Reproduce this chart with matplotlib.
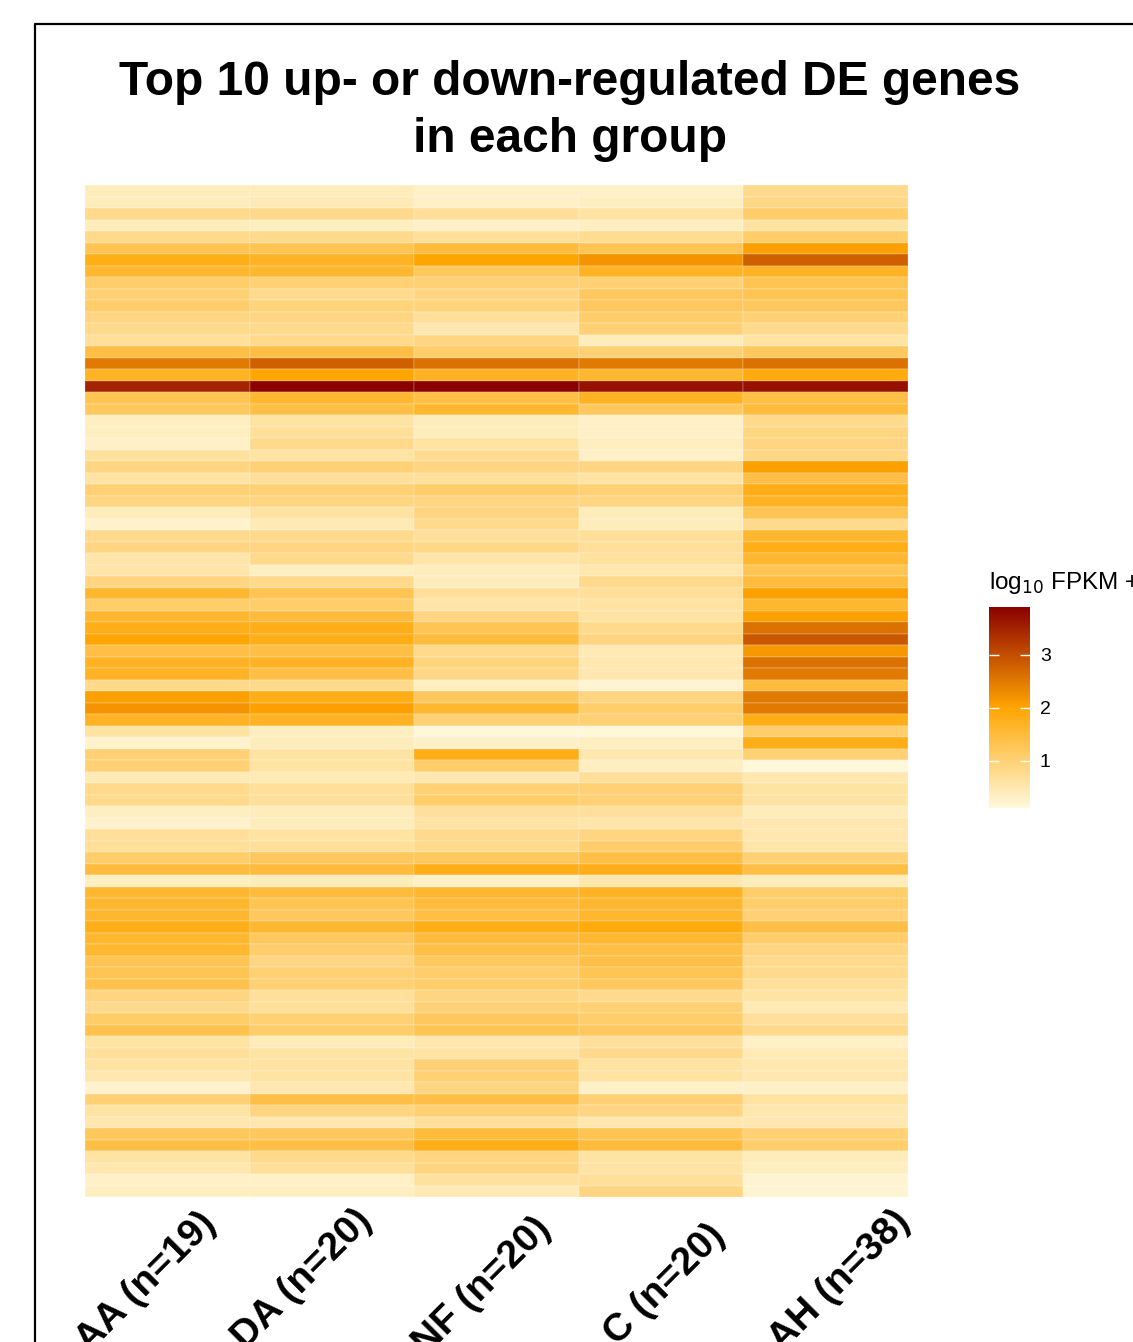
import numpy as np
import matplotlib
matplotlib.use("Agg")
import matplotlib.pyplot as plt
from matplotlib.colors import LinearSegmentedColormap
from matplotlib.lines import Line2D
from matplotlib.transforms import ScaledTranslation

plt.rcParams['font.family'] = ['Liberation Sans', 'DejaVu Sans']

groups = ['AA (n=19)', 'DA (n=20)', 'NF (n=20)', 'C (n=20)', 'AH (n=38)']

# log10 FPKM + 1 per gene (rows, top to bottom), one list per group
AA = [0.4, 0.4, 0.8, 0.4, 0.8, 1.3, 1.8, 1.6, 1.1, 1.0, 1.1, 0.9, 0.8, 0.7, 1.4, 2.5, 1.7, 3.5, 1.3, 1.2,
      0.35, 0.35, 0.3, 0.65, 0.9, 0.6, 1.0, 0.9, 0.4, 0.25, 0.8, 0.9, 0.55, 0.55, 0.9, 1.6, 1.1, 1.6, 1.8, 2.0,
      1.4, 1.7, 1.7, 0.8, 2.05, 2.2, 1.7, 0.6, 0.25, 1.0, 1.0, 0.45, 0.8, 0.8, 0.35, 0.25, 0.7, 0.7, 1.1, 1.5,
      0.35, 1.6, 1.6, 1.6, 1.8, 1.6, 1.6, 1.3, 1.3, 1.35, 0.9, 0.8, 1.1, 1.35, 0.6, 0.7, 0.6, 0.5, 0.25, 1.0,
      0.6, 0.5, 1.2, 1.4, 0.6, 0.5, 0.3, 0.35]
DA = [0.4, 0.45, 0.8, 0.35, 0.8, 1.3, 1.7, 1.6, 1.0, 0.8, 0.95, 0.9, 0.8, 0.8, 1.4, 2.8, 2.0, 3.9, 1.6, 1.4,
      0.6, 0.7, 0.8, 0.6, 1.0, 0.7, 1.0, 0.9, 0.6, 0.45, 0.8, 0.9, 0.8, 0.35, 0.8, 1.3, 1.1, 1.5, 1.8, 1.8,
      1.4, 1.7, 1.4, 0.8, 1.8, 2.05, 1.7, 0.35, 0.4, 0.6, 0.6, 0.45, 0.7, 0.7, 0.4, 0.4, 0.6, 0.7, 1.2, 1.5,
      0.4, 1.5, 1.3, 1.2, 1.6, 1.2, 1.1, 0.9, 1.0, 1.0, 0.7, 0.7, 1.0, 1.1, 0.4, 0.6, 0.6, 0.6, 0.5, 1.4,
      0.9, 0.5, 1.2, 1.4, 0.8, 0.7, 0.3, 0.35]
NF = [0.3, 0.3, 0.7, 0.3, 0.7, 1.5, 2.0, 1.2, 1.0, 0.9, 0.95, 0.7, 0.5, 0.9, 1.1, 2.6, 1.7, 3.9, 1.4, 1.6,
      0.4, 0.4, 0.6, 0.75, 0.9, 0.7, 1.1, 0.9, 0.9, 0.8, 0.7, 0.85, 0.55, 0.4, 0.4, 0.7, 0.55, 0.9, 1.3, 1.5,
      0.8, 0.95, 0.85, 0.35, 1.2, 1.6, 1.0, 0.15, 0.3, 1.8, 1.1, 0.5, 1.0, 1.1, 0.7, 0.6, 0.8, 0.8, 1.2, 1.8,
      0.3, 1.6, 1.5, 1.4, 1.8, 1.5, 1.4, 1.2, 1.1, 1.1, 0.9, 1.0, 1.2, 1.3, 0.5, 0.6, 1.0, 1.0, 0.9, 1.4,
      1.0, 0.7, 1.5, 1.8, 0.9, 0.9, 0.65, 0.45]
C = [0.3, 0.35, 0.6, 0.35, 0.75, 1.3, 2.2, 1.7, 1.0, 1.2, 1.2, 1.1, 1.0, 0.4, 1.0, 2.5, 1.6, 3.7, 1.7, 1.2,
     0.3, 0.3, 0.35, 0.3, 0.9, 0.6, 1.0, 0.9, 0.4, 0.4, 0.7, 0.7, 0.65, 0.5, 0.8, 0.7, 0.6, 0.6, 0.8, 0.9,
     0.45, 0.5, 0.5, 0.2, 0.9, 1.1, 1.0, 0.15, 0.35, 0.5, 0.35, 0.7, 1.0, 1.0, 0.7, 0.55, 0.9, 1.1, 1.4, 1.8,
     0.5, 1.7, 1.6, 1.6, 1.9, 1.6, 1.4, 1.4, 1.3, 1.2, 0.8, 1.0, 1.1, 1.2, 0.7, 0.8, 0.6, 0.6, 0.3, 1.0,
     0.9, 0.5, 1.3, 1.5, 0.6, 0.6, 0.7, 0.9]
AH = [0.8, 0.85, 1.1, 0.6, 1.1, 2.05, 2.8, 1.7, 1.3, 1.3, 1.2, 1.0, 0.8, 0.6, 1.2, 2.6, 1.9, 3.7, 1.4, 1.5,
      0.8, 0.9, 0.9, 0.85, 2.05, 1.4, 1.8, 1.7, 1.3, 0.8, 1.6, 1.8, 1.6, 1.3, 1.5, 2.05, 1.6, 2.05, 2.6, 2.9,
      2.15, 2.6, 2.5, 1.5, 2.5, 2.5, 1.8, 1.1, 1.8, 1.0, 0.15, 0.5, 0.6, 0.6, 0.4, 0.5, 0.5, 0.55, 1.0, 1.4,
      0.4, 1.1, 1.1, 1.0, 1.4, 1.1, 0.9, 0.8, 0.8, 0.7, 0.6, 0.45, 0.7, 0.8, 0.3, 0.45, 0.5, 0.5, 0.3, 0.6,
      0.5, 0.5, 1.0, 1.1, 0.4, 0.35, 0.2, 0.2]

vmin, vmax = 0.11, 3.9
cbar_ticks = [1, 2, 3]

mat = np.array([AA, DA, NF, C, AH]).T

W, H = 1133, 1342
fig = plt.figure(figsize=(W / 100, H / 100), dpi=100)

cmap = LinearSegmentedColormap.from_list('fpkm', ['#FFF8DC', '#FFA500', '#8B0000'])

ax = fig.add_axes([85 / W, 1 - 1197 / H, 823 / W, 1012 / H])
mesh = ax.pcolormesh(mat, cmap=cmap, vmin=vmin, vmax=vmax,
                     edgecolors=(1, 1, 1, 0.12), linewidth=0.3)
ax.set_xlim(0, mat.shape[1])
ax.set_ylim(mat.shape[0], 0)
for s in ax.spines.values():
    s.set_visible(False)
ax.set_yticks([])
ax.set_xticks(np.arange(len(groups)) + 0.5)
ax.set_xticklabels(groups, rotation=45, ha='right', va='top', rotation_mode='anchor',
                   fontsize=28, fontweight='bold')
ax.tick_params(axis='x', length=0, pad=0)
# nudge labels so that their ends sit where they do in the original
nudges = [(30, -8), (22, -6), (36, -14), (46, -20), (66, -6)]
for lab, (dx, dy) in zip(ax.get_xticklabels(), nudges):
    lab.set_transform(lab.get_transform() + ScaledTranslation(dx / 100, dy / 100, fig.dpi_scale_trans))

fig.text(570 / W, 1 - 111 / H, 'Top 10 up- or down-regulated DE genes\nin each group',
         ha='center', va='center', fontsize=34.5, fontweight='bold', linespacing=1.35)

cax = fig.add_axes([989 / W, 1 - 808 / H, 41 / W, 201 / H])
cb = fig.colorbar(mesh, cax=cax, ticks=cbar_ticks)
cb.outline.set_visible(False)
cax.tick_params(axis='y', direction='in', color='white', length=7, width=1,
                left=True, right=True, labelleft=False, labelright=True, labelsize=14, pad=7)
fig.text(989 / W, 1 - 583 / H, 'log$_{10}$ FPKM + 1', ha='left', va='center', fontsize=17.5)

# outer frame (top and left edges visible)
fig.add_artist(Line2D([35 / W, 35 / W, 1.0], [0.0, 1 - 24 / H, 1 - 24 / H],
                      color='black', lw=1.6, transform=fig.transFigure))

fig.savefig('out.png', dpi=100)
